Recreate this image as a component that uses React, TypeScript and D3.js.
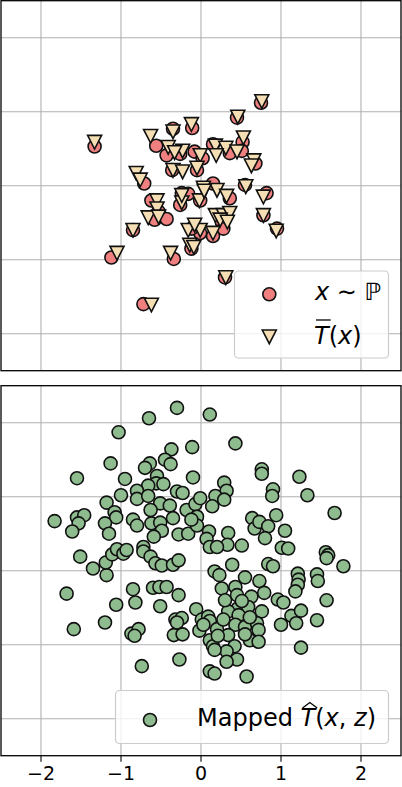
import React, { useEffect, useRef } from "react";
import * as d3 from "d3";

// tick values shared by both panels
const xTicks = [-2, -1, 0, 1, 2];
const yTicks = [-2, -1, 0, 1, 2];

// top panel: samples x ~ P
const pSamples: [number, number][] = [
  [0.75, 1.12], [0.45, 0.92], [-0.35, 0.77], [-0.11, 0.78], [-1.33, 0.53], [-0.56, 0.54],
  [0.15, 0.56], [0.52, 0.59], [0.36, 0.44], [0.51, 0.47], [-0.43, 0.41], [-0.26, 0.43],
  [-0.08, 0.46], [0.02, 0.37], [0.68, 0.30], [-0.36, 0.21], [-0.05, 0.21], [-0.71, 0.03],
  [0.15, 0.03], [0.55, 0.01], [0.82, -0.10], [-0.62, -0.20], [-0.53, -0.35], [-0.58, -0.46],
  [-0.43, -0.45], [-0.26, -0.26], [-0.24, -0.10], [-0.16, -0.11], [-0.01, -0.20], [0.36, -0.17],
  [0.26, -0.49], [0.28, -0.58], [0.78, -0.40], [0.95, -0.58], [-0.85, -0.60], [-1.12, -0.97],
  [-0.34, -0.99], [-0.01, -0.64], [0.15, -0.68], [-0.12, -0.85], [0.30, -1.24], [-0.72, -1.60],
  [-0.12, -0.58],
];

// top panel: T-bar(x)
const tBar: [number, number][] = [
  [0.76, 1.14], [0.46, 0.93], [-0.35, 0.73], [-0.12, 0.83], [-1.33, 0.59], [-0.63, 0.67],
  [0.18, 0.54], [0.53, 0.65], [0.31, 0.51], [0.45, 0.46], [-0.41, 0.52], [-0.23, 0.47],
  [-0.01, 0.41], [0.19, 0.41], [0.66, 0.34], [0.63, 0.27], [-0.35, 0.21], [-0.23, 0.19],
  [-0.05, 0.24], [-0.81, 0.17], [-0.76, 0.08], [-0.33, 0.45], [0.03, -0.03], [0.20, -0.06],
  [0.56, -0.01], [0.78, -0.15], [-0.55, -0.20], [-0.55, -0.31], [-0.66, -0.43], [-0.53, -0.42],
  [-0.24, -0.23], [-0.24, -0.13], [-0.02, -0.20], [0.04, -0.07], [0.32, -0.14], [0.18, -0.40],
  [0.28, -0.40], [0.36, -0.37], [0.24, -0.46], [0.33, -0.49], [0.78, -0.40], [0.94, -0.61],
  [-0.85, -0.60], [-1.05, -0.91], [-0.38, -0.91], [-0.16, -0.60], [-0.01, -0.60], [-0.08, -0.53],
  [0.15, -0.64], [-0.14, -0.80], [-0.09, -0.83], [0.31, -1.24], [-0.62, -1.61],
];

// bottom panel: mapped T-hat(x, z)
const mapped: [number, number][] = [
  [-0.30, 2.20], [-0.65, 2.06], [-1.03, 1.87], [-0.37, 1.64], [-0.11, 1.67], [-1.13, 1.45],
  [-0.45, 1.50], [-0.38, 1.44], [-0.64, 1.45], [-0.70, 1.39], [-1.55, 1.25], [-0.95, 1.24],
  [-0.10, 1.26], [-0.55, 1.28], [-0.56, 1.18], [-0.47, 1.17], [-0.66, 1.15], [-1.00, 1.02],
  [-0.80, 1.08], [-0.80, 0.97], [-0.66, 1.01], [-0.30, 1.07], [-0.23, 1.05], [-1.18, 0.92],
  [-1.08, 0.79], [-1.06, 0.72], [-0.51, 0.91], [-0.39, 0.88], [-0.63, 0.82], [-0.18, 0.82],
  [-0.07, 0.90], [-0.05, 0.73], [-0.35, 0.71], [-1.83, 0.67], [-1.55, 0.72], [-1.46, 0.75],
  [-1.53, 0.64], [-1.61, 0.53], [-1.20, 0.64], [-1.15, 0.50], [-0.85, 0.69], [-0.80, 0.61],
  [-0.62, 0.64], [-0.51, 0.65], [-0.49, 0.54], [-0.59, 0.46], [-0.28, 0.49], [-0.16, 0.50],
  [-0.05, 0.61], [-0.12, 0.69], [-0.72, 0.32], [-1.51, 0.19], [-1.35, 0.03], [-1.18, -0.06],
  [-1.19, 0.11], [-1.11, 0.22], [-1.05, 0.29], [-0.97, 0.23], [-0.93, 0.28], [-0.72, 0.26],
  [-0.63, 0.19], [-0.57, 0.10], [-0.49, 0.07], [-0.35, 0.08], [-0.28, 0.14], [-1.68, -0.31],
  [-1.06, -0.46], [-0.85, -0.25], [-0.82, -0.43], [-0.60, -0.23], [-0.52, -0.22], [-0.43, -0.22],
  [-0.51, -0.48], [-0.28, -0.33], [-0.06, -0.52], [-1.59, -0.79], [-1.20, -0.70], [-0.87, -0.85],
  [-0.78, -0.79], [-0.83, -0.88], [-0.32, -0.66], [-0.24, -0.64], [-0.30, -0.70], [-0.34, -0.87],
  [-0.23, -0.86], [0.01, -0.66], [-0.02, -0.81], [-0.74, -1.29], [-0.27, -1.20],
  [0.11, 2.11], [0.43, 1.72], [0.76, 1.37], [0.76, 1.31], [1.23, 1.27], [0.90, 1.10],
  [0.89, 1.01], [1.33, 1.02], [1.67, 0.78], [0.29, 1.19], [0.32, 1.08], [0.18, 1.01],
  [0.29, 0.96], [-0.01, 0.98], [0.14, 0.87], [0.64, 0.71], [0.67, 0.57], [0.73, 0.66],
  [0.84, 0.60], [0.94, 0.75], [0.80, 0.44], [1.05, 0.54], [1.01, 0.31], [1.09, 0.30],
  [0.34, 0.51], [0.33, 0.35], [0.51, 0.34], [0.10, 0.53], [0.07, 0.43], [0.11, 0.32],
  [0.20, 0.32], [0.39, 0.08], [1.56, 0.25], [1.59, 0.21], [1.57, 0.17], [1.78, 0.06],
  [0.84, 0.09], [0.90, 0.06], [0.17, -0.01], [0.23, -0.06], [0.55, -0.09], [0.73, -0.14],
  [1.21, -0.04], [1.22, -0.12], [1.21, -0.19], [1.18, -0.28], [1.45, -0.05], [1.46, -0.14],
  [0.26, -0.24], [0.43, -0.22], [0.79, -0.30], [0.96, -0.39], [1.03, -0.43], [1.57, -0.40],
  [0.45, -0.33], [0.63, -0.35], [0.46, -0.51], [0.59, -0.49], [0.76, -0.55], [0.34, -0.55],
  [0.47, -0.60], [0.09, -0.62], [0.11, -0.68], [0.03, -0.73], [0.20, -0.79], [0.28, -0.66],
  [0.43, -0.73], [0.55, -0.76], [0.70, -0.71], [0.61, -0.63], [0.72, -0.80], [0.34, -0.87],
  [0.61, -0.94], [0.72, -0.96], [0.11, -0.94], [0.15, -1.02], [0.42, -1.02], [0.32, -1.09],
  [0.45, -1.20], [0.17, -1.07], [0.32, -1.23], [1.13, -0.61], [1.25, -0.54], [1.19, -0.71],
  [1.00, -0.73], [1.45, -0.67], [1.25, -1.04], [0.11, -1.36], [0.17, -1.39], [0.57, -1.43],
  [0.30, -0.40], [0.51, -0.41], [0.21, -0.88], [0.55, -0.86],
];

const W = 402;
const H = 787;
const FONT = "DejaVu Sans, sans-serif";
const R = 6.5;
const EDGE = 1.6;

export default function App() {
  const ref = useRef<SVGSVGElement>(null);

  useEffect(() => {
    const svg = d3.select(ref.current);
    svg.selectAll("*").remove();

    const x = d3.scaleLinear().domain([-2.5, 2.5]).range([1, 401]);
    const panels = [
      { id: "top", y: d3.scaleLinear().domain([-2.5, 2.5]).range([370.7, 0.7]) },
      { id: "bot", y: d3.scaleLinear().domain([-2.5, 2.5]).range([755.7, 385.7]) },
    ];

    const tri = (s: number) => `M${-s},${-s * 0.95}L${s},${-s * 0.95}L0,${s}Z`;

    const layers = panels.map((p) => {
      const [y1, y0] = p.y.range();
      svg.append("clipPath").attr("id", "clip-" + p.id)
        .append("rect").attr("x", x(-2.5)).attr("y", y0).attr("width", x(2.5) - x(-2.5)).attr("height", y1 - y0);
      const g = svg.append("g");
      // grid
      g.append("g").selectAll("line").data(xTicks).join("line")
        .attr("x1", (d) => x(d)).attr("x2", (d) => x(d)).attr("y1", y0).attr("y2", y1)
        .attr("stroke", "#b0b0b0").attr("stroke-width", 1.1);
      g.append("g").selectAll("line").data(yTicks).join("line")
        .attr("x1", x(-2.5)).attr("x2", x(2.5)).attr("y1", (d) => p.y(d)).attr("y2", (d) => p.y(d))
        .attr("stroke", "#b0b0b0").attr("stroke-width", 1.1);
      const marks = g.append("g").attr("clip-path", `url(#clip-${p.id})`);
      return { g, marks, y: p.y, y0, y1 };
    });

    // top panel marks
    const top = layers[0];
    top.marks.append("g").selectAll("circle").data(pSamples).join("circle")
      .attr("cx", (d) => x(d[0])).attr("cy", (d) => top.y(d[1])).attr("r", R)
      .attr("fill", "#f08080").attr("stroke", "#111").attr("stroke-width", EDGE);
    top.marks.append("g").selectAll("path").data(tBar).join("path")
      .attr("transform", (d) => `translate(${x(d[0])},${top.y(d[1])})`)
      .attr("d", tri(7))
      .attr("fill", "#f5deb3").attr("stroke", "#111").attr("stroke-width", EDGE);

    // bottom panel marks
    const bot = layers[1];
    bot.marks.append("g").selectAll("circle").data(mapped).join("circle")
      .attr("cx", (d) => x(d[0])).attr("cy", (d) => bot.y(d[1])).attr("r", R)
      .attr("fill", "#8fbc8f").attr("stroke", "#111").attr("stroke-width", EDGE);

    // frames
    layers.forEach((l) => {
      l.g.append("rect").attr("x", x(-2.5)).attr("y", l.y0).attr("width", x(2.5) - x(-2.5)).attr("height", l.y1 - l.y0)
        .attr("fill", "none").attr("stroke", "#000").attr("stroke-width", 1.3);
    });

    // x axis on bottom panel
    const ax = svg.append("g").attr("transform", `translate(0,${bot.y1})`);
    ax.selectAll("line").data(xTicks).join("line")
      .attr("x1", (d) => x(d)).attr("x2", (d) => x(d)).attr("y1", 0).attr("y2", 6)
      .attr("stroke", "#000").attr("stroke-width", 1.1);
    ax.selectAll("text").data(xTicks).join("text")
      .attr("x", (d) => x(d)).attr("y", 24.5).attr("text-anchor", "middle")
      .attr("font-family", FONT).attr("font-size", 19)
      .text((d) => (d < 0 ? "\u2212" + Math.abs(d) : String(d)));

    // legends
    const legendBox = (bx: number, by: number, bw: number, bh: number) =>
      svg.append("rect").attr("x", bx).attr("y", by).attr("width", bw).attr("height", bh).attr("rx", 4)
        .attr("fill", "#fff").attr("fill-opacity", 0.8).attr("stroke", "#cccccc").attr("stroke-width", 1.2);

    const mathText = (tx: number, ty: number, parts: { t: string; it?: boolean }[]) => {
      const t = svg.append("text").attr("x", tx).attr("y", ty).attr("font-family", FONT).attr("font-size", 24);
      parts.forEach((p) => t.append("tspan").attr("font-style", p.it ? "oblique" : "normal").text(p.t));
      return t.node() as SVGTextElement;
    };

    legendBox(234.5, 271, 154, 87);
    svg.append("circle").attr("cx", 269.3).attr("cy", 294.3).attr("r", R)
      .attr("fill", "#f08080").attr("stroke", "#111").attr("stroke-width", EDGE);
    svg.append("path").attr("transform", "translate(269.3,336.7)").attr("d", tri(7))
      .attr("fill", "#f5deb3").attr("stroke", "#111").attr("stroke-width", EDGE);
    mathText(315, 300, [{ t: "x", it: true }, { t: " \u223C " }, { t: "\u2119" }]);
    const tb = mathText(314, 343.5, [{ t: "T", it: true }, { t: "(" }, { t: "x", it: true }, { t: ")" }]);
    const e1 = tb.getExtentOfChar(0);
    svg.append("line").attr("x1", e1.x + 2).attr("x2", e1.x + e1.width + 2).attr("y1", 320).attr("y2", 320)
      .attr("stroke", "#000").attr("stroke-width", 1.3);

    legendBox(115.5, 690.5, 273, 53);
    svg.append("circle").attr("cx", 150).attr("cy", 720).attr("r", R)
      .attr("fill", "#8fbc8f").attr("stroke", "#111").attr("stroke-width", EDGE);
    const mt = mathText(197, 726, [
      { t: "Mapped " }, { t: "T", it: true }, { t: "(" }, { t: "x", it: true }, { t: ", " }, { t: "z", it: true }, { t: ")" },
    ]);
    const e2 = mt.getExtentOfChar(7);
    const hx0 = e2.x + 2, hx1 = e2.x + e2.width + 2;
    svg.append("path")
      .attr("d", `M${hx0},708L${(hx0 + hx1) / 2},702.5L${hx1},708`)
      .attr("fill", "none").attr("stroke", "#000").attr("stroke-width", 1.3);
  }, []);

  return (
    <svg ref={ref} width={W} height={H}
      style={{ position: "absolute", left: 0, top: 0, background: "#fff", display: "block" }} />
  );
}
